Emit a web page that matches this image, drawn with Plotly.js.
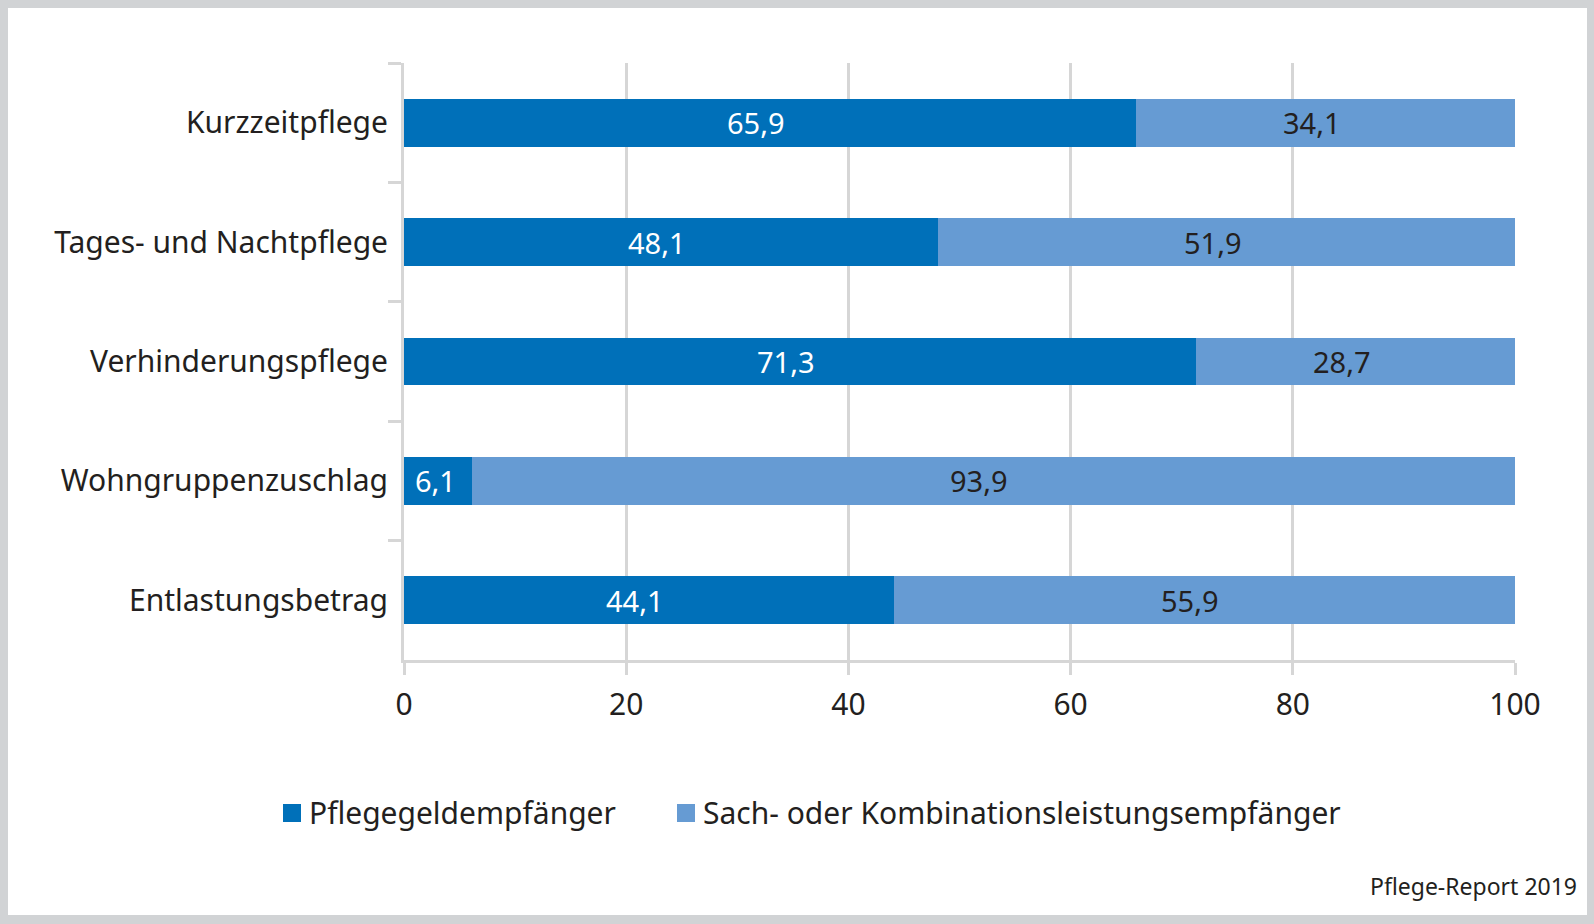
<!DOCTYPE html>
<html>
<head>
<meta charset="utf-8">
<script src="https://cdn.plot.ly/plotly-3.0.1.min.js"></script>
<style>
  html, body { margin: 0; padding: 0; background: #d1d3d5; width: 1594px; height: 924px; overflow: hidden; }
  #chart { position: absolute; left: 8px; top: 8px; width: 1579px; height: 907px; background: #ffffff; }
</style>
</head>
<body>
<div id="chart"></div>
<script>
const categories = ['Kurzzeitpflege', 'Tages- und Nachtpflege', 'Verhinderungspflege', 'Wohngruppenzuschlag', 'Entlastungsbetrag'];
const pflegegeld = [65.9, 48.1, 71.3, 6.1, 44.1];
const sachKombi = [34.1, 51.9, 28.7, 93.9, 55.9];
const seriesNames = ['Pflegegeldempfänger', 'Sach- oder Kombinationsleistungsempfänger'];
const xTicks = [0, 20, 40, 60, 80, 100];
const sourceText = 'Pflege-Report 2019';

const FONT = 'Noto Sans, Open Sans, sans-serif';
const DARK = '#0070b9';
const LIGHT = '#669bd3';
const TEXT = '#231f20';
const GRID = '#d6d6d6';

// plot-area geometry (pixels inside the chart div)
const W = 1579, H = 907;
const M = { l: 396, r: 72, t: 55, b: 255 };
const PW = W - M.l - M.r, PH = H - M.t - M.b;
const px2x = p => (p - M.l) / PW;          // div px -> paper x
const py2y = p => (H - M.b - p) / PH;      // div px -> paper y

const fmt = v => v.toFixed(1).replace('.', ',');

const traces = [
  { type: 'bar', orientation: 'h', name: seriesNames[0], y: categories, x: pflegegeld,
    marker: { color: DARK }, hoverinfo: 'skip', showlegend: false },
  { type: 'bar', orientation: 'h', name: seriesNames[1], y: categories, x: sachKombi,
    marker: { color: LIGHT }, hoverinfo: 'skip', showlegend: false }
];

// value labels, placed through the data axes
const annotations = [];
const LABEL_SIZE = 29;
const pxPerUnit = PW / 100;
function addLabels(starts, values, color) {
  values.forEach((v, i) => {
    const segPx = v * pxPerUnit;
    const txt = fmt(v);
    const textW = txt.length * 0.5 * LABEL_SIZE;
    const room = (segPx - textW) / 2 - 10;
    const shift = -Math.max(0, Math.min(14, room));
    annotations.push({
      text: txt, xref: 'x', yref: 'y', x: starts[i] + v / 2, y: categories[i],
      xanchor: 'center', yanchor: 'middle', xshift: shift, showarrow: false,
      font: { family: FONT, size: LABEL_SIZE, color: color }
    });
  });
}
addLabels(pflegegeld.map(() => 0), pflegegeld, '#ffffff');
addLabels(pflegegeld, sachKombi, TEXT);

// legend (drawn as squares + texts)
const shapes = [];
const legendItems = [
  { name: seriesNames[0], color: DARK, sq: 275 },
  { name: seriesNames[1], color: LIGHT, sq: 669 }
];
const LEG_Y = 805; // div px, center
legendItems.forEach(it => {
  shapes.push({
    type: 'rect', xref: 'paper', yref: 'paper',
    x0: px2x(it.sq), x1: px2x(it.sq + 18), y0: py2y(LEG_Y + 9), y1: py2y(LEG_Y - 9),
    fillcolor: it.color, line: { width: 0 }
  });
  annotations.push({
    text: it.name, xref: 'paper', yref: 'paper', x: px2x(it.sq + 24), y: py2y(LEG_Y),
    xanchor: 'left', yanchor: 'middle', showarrow: false,
    font: { family: FONT, size: 30, color: TEXT }
  });
});

annotations.push({
  text: sourceText, xref: 'paper', yref: 'paper',
  x: px2x(1571), y: py2y(878), xanchor: 'right', yanchor: 'middle',
  showarrow: false, font: { family: FONT, size: 23, color: TEXT }
});

const layout = {
  width: W, height: H,
  paper_bgcolor: '#ffffff', plot_bgcolor: '#ffffff',
  barmode: 'stack', bargap: 0.6,
  margin: { l: M.l, r: M.r, t: M.t, b: M.b, pad: 0 },
  font: { family: FONT, size: 30, color: TEXT },
  showlegend: false,
  xaxis: {
    range: [0, 100], tickvals: xTicks, ticktext: xTicks.map(String),
    showgrid: true, gridcolor: GRID, gridwidth: 3,
    zeroline: false,
    showline: true, linecolor: GRID, linewidth: 3,
    ticks: 'outside', ticklen: 12, tickwidth: 3, tickcolor: GRID,
    ticklabelstandoff: 4,
    tickfont: { family: FONT, size: 30, color: TEXT },
    fixedrange: true
  },
  yaxis: {
    type: 'category', autorange: 'reversed',
    showgrid: false, zeroline: false,
    showline: true, linecolor: GRID, linewidth: 3,
    ticks: 'outside', tickson: 'boundaries', ticklen: 13, tickwidth: 3, tickcolor: GRID,
    ticklabelstandoff: 7,
    tickfont: { family: FONT, size: 30, color: TEXT },
    fixedrange: true
  },
  shapes: shapes,
  annotations: annotations
};

Plotly.newPlot('chart', traces, layout, { displayModeBar: false, staticPlot: true });
</script>
</body>
</html>
